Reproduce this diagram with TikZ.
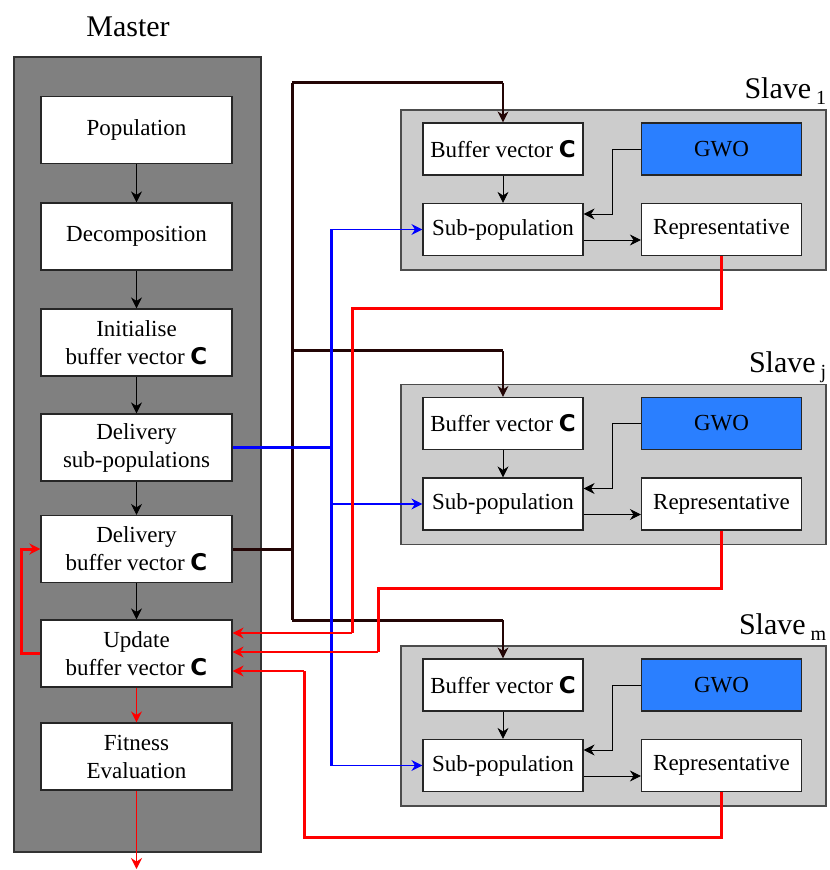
\documentclass[tikz,border=0pt]{standalone}
\usepackage{fontspec}
\setmainfont{Liberation Serif}
\newfontfamily\cfont{DejaVu Sans}
\usetikzlibrary{arrows.meta}

\definecolor{masterfill}{RGB}{128,128,128}
\definecolor{slavefill}{RGB}{204,204,204}
\definecolor{gwofill}{RGB}{42,127,255}
\definecolor{busline}{RGB}{35,5,5}

\newcommand{\bvc}{{\cfont\bfseries C}}
\newcommand{\slavesub}[1]{\,\raisebox{-3pt}{\fontsize{10}{10}\selectfont #1}}

\tikzset{
    box/.style={draw=black!85, fill=white, line width=0.6pt, minimum width=95.5pt, minimum height=33.5pt, align=center, inner sep=1pt, font=\fontsize{11.5}{14}\selectfont},
    sbox/.style={box, minimum width=80pt, minimum height=26pt},
    slavebg/.style={draw=black!70, fill=slavefill, line width=0.6pt, minimum width=212.5pt, minimum height=80pt},
    titletext/.style={font=\fontsize{15}{18}\selectfont, inner sep=0pt},
    tip/.style={-{Stealth[length=5.5pt,width=5.5pt]}},
    busthick/.style={draw=busline, line width=1.5pt},
    busthin/.style={draw=busline, line width=0.6pt},
    bluethick/.style={draw=blue, line width=1.5pt},
    bluethin/.style={draw=blue, line width=0.6pt},
    redthick/.style={draw=red, line width=1.5pt},
    redthin/.style={draw=red, line width=0.7pt}
}

\begin{document}
\begin{tikzpicture}[x=0.5pt, y=-0.5pt]
    \useasboundingbox (0,0) rectangle (829,870);

    % master
    \node [titletext] (mastertitle) at (128,27) {Master};
    \node [draw=black!80, fill=masterfill, line width=0.6pt, minimum width=123.5pt, minimum height=397.5pt] (master) at (137.5,454.5) {};

    \node [box] (pop) at (136.5,130) {Population};
    \node [box] (dec) at (136.5,236.5) {Decomposition};
    \node [box] (init) at (136.5,342.5) {Initialise\\ buffer vector \bvc};
    \node [box] (delsub) at (136.5,447.5) {Delivery\\sub-populations};
    \node [box] (delbuf) at (136.5,549) {Delivery\\buffer vector \bvc};
    \node [box] (upd) at (136.5,653.5) {Update\\buffer vector \bvc};
    \node [box] (fit) at (136.5,756.5) {Fitness\\Evaluation};

    \draw [tip] (pop) -- (dec);
    \draw [tip] (dec) -- (init);
    \draw [tip] (init) -- (delsub);
    \draw [tip] (delsub) -- (delbuf);
    \draw [tip] (delbuf) -- (upd);
    \draw [redthin, tip] (upd) -- (fit);
    \coordinate (fitout) at (136.5,869);
    \draw [redthin, tip] (fit) -- (fitout);
    \draw [redthick, tip] (upd.west) -- ++(-19,0) |- (delbuf.west);

    % slave 1
    \node [slavebg] (slaveA) at (613.5,190) {};
    \node [sbox] (bufA) at (503,149) {Buffer vector \bvc};
    \node [sbox, fill=gwofill] (gwoA) at (721.5,149) {GWO};
    \node [sbox] (subA) at (503,229.5) {Sub-population};
    \node [sbox] (repA) at (721.5,229.5) {Representative};
    \node [titletext, anchor=base east] (labA) at ([yshift=5.5pt]slaveA.north east) {Slave\slavesub{1}};
    \draw [tip] (bufA) -- (subA);
    \draw [tip] (gwoA.west) -- ++(-29,0) |- ([yshift=7.75pt]subA.east);
    \draw [tip] ([yshift=-5.25pt]subA.east) -- ([yshift=-5.25pt]repA.west);

    % slave j
    \node [slavebg] (slaveB) at (613.5,464.5) {};
    \node [sbox] (bufB) at (503,423.5) {Buffer vector \bvc};
    \node [sbox, fill=gwofill] (gwoB) at (721.5,423.5) {GWO};
    \node [sbox] (subB) at (503,504) {Sub-population};
    \node [sbox] (repB) at (721.5,504) {Representative};
    \node [titletext, anchor=base east] (labB) at ([yshift=5.5pt]slaveB.north east) {Slave\slavesub{j}};
    \draw [tip] (bufB) -- (subB);
    \draw [tip] (gwoB.west) -- ++(-29,0) |- ([yshift=7.75pt]subB.east);
    \draw [tip] ([yshift=-5.25pt]subB.east) -- ([yshift=-5.25pt]repB.west);

    % slave m
    \node [slavebg] (slaveC) at (613.5,726) {};
    \node [sbox] (bufC) at (503,685) {Buffer vector \bvc};
    \node [sbox, fill=gwofill] (gwoC) at (721.5,685) {GWO};
    \node [sbox] (subC) at (503,765.5) {Sub-population};
    \node [sbox] (repC) at (721.5,765.5) {Representative};
    \node [titletext, anchor=base east] (labC) at ([yshift=5.5pt]slaveC.north east) {Slave\slavesub{m}};
    \draw [tip] (bufC) -- (subC);
    \draw [tip] (gwoC.west) -- ++(-29,0) |- ([yshift=7.75pt]subC.east);
    \draw [tip] ([yshift=-5.25pt]subC.east) -- ([yshift=-5.25pt]repC.west);

    % buffer vector bus
    \coordinate (bA) at (292,83);
    \coordinate (bB) at (292,351);
    \coordinate (bC) at (292,620);
    \coordinate (bJ) at (292,549);
    \draw [busthick] (delbuf.east) -- (bJ);
    \draw [busthick] (bA) -- (bC);
    \draw [busthick] (bA) -- (bA -| bufA.north);
    \draw [busthick] (bB) -- (bB -| bufB.north);
    \draw [busthick] (bC) -- (bC -| bufC.north);
    \draw [busthin, tip] (bA -| bufA.north) -- (bufA.north);
    \draw [busthin, tip] (bB -| bufB.north) -- (bufB.north);
    \draw [busthin, tip] (bC -| bufC.north) -- (bufC.north);

    % sub-population bus
    \coordinate (uJ) at (331,447.5);
    \draw [bluethick] (delsub.east) -- (uJ);
    \draw [bluethick] (subA.west -| uJ) -- (subC.west -| uJ);
    \draw [bluethin, tip] (subA.west -| uJ) -- (subA.west);
    \draw [bluethin, tip] (subB.west -| uJ) -- (subB.west);
    \draw [bluethin, tip] (subC.west -| uJ) -- (subC.west);

    % representatives back to master
    \coordinate (updA) at ([yshift=10.25pt]upd.east);
    \coordinate (updB) at ([yshift=0.75pt]upd.east);
    \coordinate (updC) at ([yshift=-8.75pt]upd.east);
    \coordinate (rA) at (352,309);
    \coordinate (rB) at (378,588);
    \coordinate (rC) at (304,837);
    \draw [redthick] (repA.south) |- (rA) -- (rA |- updA);
    \draw [redthick] (repB.south) |- (rB) -- (rB |- updB);
    \draw [redthick] (repC.south) |- (rC) -- (rC |- updC);
    \draw [redthin, tip] (rA |- updA) -- (updA);
    \draw [redthin, tip] (rB |- updB) -- (updB);
    \draw [redthin, tip] (rC |- updC) -- (updC);
\end{tikzpicture}
\end{document}
